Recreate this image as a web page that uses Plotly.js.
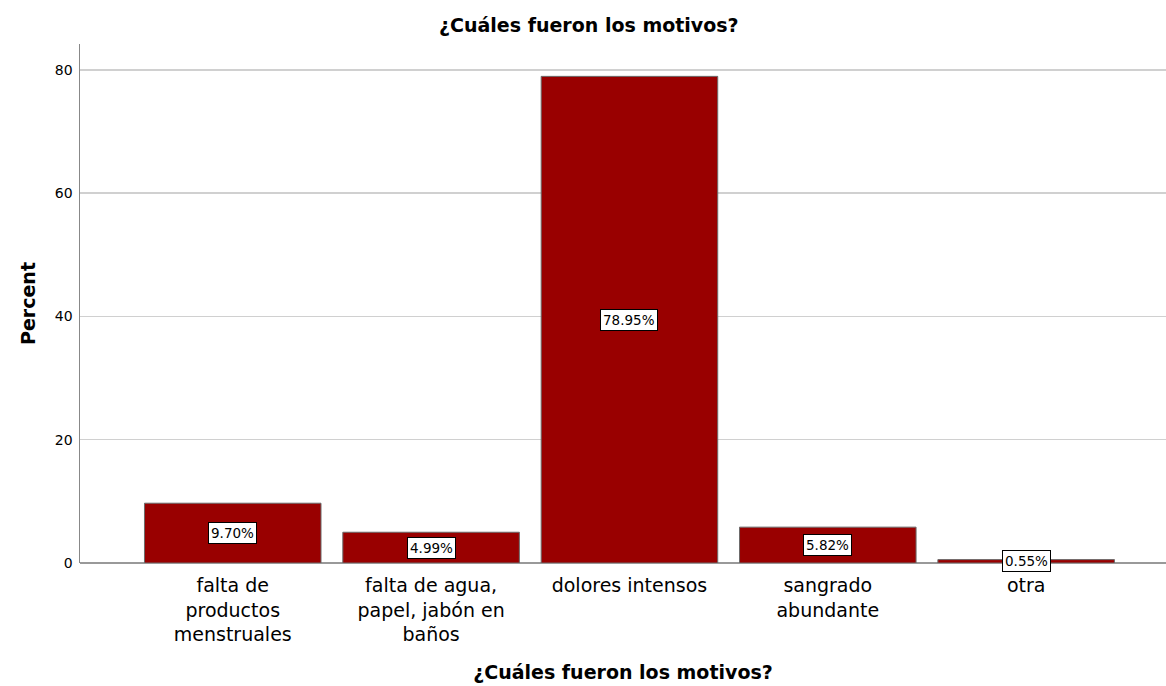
<!DOCTYPE html>
<html><head><meta charset="utf-8">
<script src="https://cdn.plot.ly/plotly-3.0.1.min.js"></script>
<style>html,body{margin:0;padding:0;background:#fff}</style>
</head><body>
<div id="chart" style="width:1166px;height:686px"></div>
<script>
const categories = ["falta de<br>productos<br>menstruales", "falta de agua,<br>papel, jabón en<br>baños", "dolores intensos", "sangrado<br>abundante", "otra"];
const percents = [9.70, 4.99, 78.95, 5.82, 0.55];
const yTicks = [0, 20, 40, 60, 80];

const font = "DejaVu Sans, sans-serif";
const trace = {
  type: "bar",
  x: categories.map((c, i) => i),
  y: percents,
  width: 0.89,
  marker: {color: "#990000", line: {color: "#6b6b6b", width: 1}},
  hoverinfo: "skip"
};
const annotations = percents.map((v, i) => ({
  x: i, y: v / 2, xref: "x", yref: "y",
  text: v.toFixed(2) + "%", showarrow: false,
  font: {family: font, size: 13.5, color: "#000"},
  bgcolor: "#ffffff", bordercolor: "#000000", borderwidth: 1, borderpad: 2
}));
const layout = {
  width: 1166, height: 686,
  margin: {l: 80, r: 0, t: 44, b: 123},
  paper_bgcolor: "#fff", plot_bgcolor: "#fff",
  showlegend: false,
  title: {text: "<b>¿Cuáles fueron los motivos?</b>", font: {family: font, size: 19, color: "#000"}, x: 0.505, xanchor: "center", y: 0.963, yanchor: "middle"},
  xaxis: {
    range: [-0.77, 4.705],
    tickmode: "array", tickvals: categories.map((c, i) => i), ticktext: categories,
    tickfont: {family: font, size: 19, color: "#000"},
    showgrid: false, zeroline: false, showline: false,
    ticks: "outside", ticklen: 5, tickcolor: "rgba(0,0,0,0)",
    title: {text: "<b>¿Cuáles fueron los motivos?</b>", font: {family: font, size: 19, color: "#000"}, standoff: 21}
  },
  yaxis: {
    range: [0, 84.2],
    tickmode: "array", tickvals: yTicks, ticktext: yTicks.map(String),
    tickfont: {family: font, size: 14, color: "#000"},
    showgrid: true, gridcolor: "#d0d0d0", gridwidth: 1.5,
    zeroline: true, zerolinecolor: "#999", zerolinewidth: 1.5,
    showline: true, linecolor: "#888", linewidth: 1.5,
    ticks: "outside", ticklen: 3, tickcolor: "rgba(0,0,0,0)",
    title: {text: "<b>Percent</b>", font: {family: font, size: 19, color: "#000"}, standoff: 14}
  },
  annotations: annotations
};
Plotly.newPlot("chart", [trace], layout, {displayModeBar: false, staticPlot: true});
</script>
</body></html>
